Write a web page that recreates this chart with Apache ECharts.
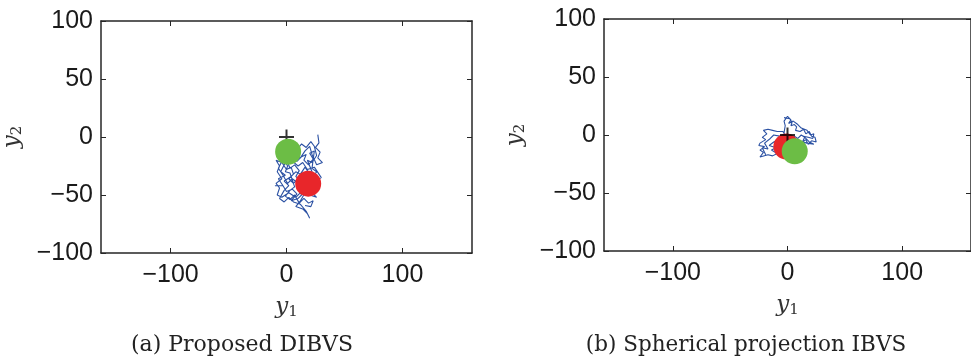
<!DOCTYPE html>
<html>
<head>
<meta charset="utf-8">
<script src="https://cdn.jsdelivr.net/npm/echarts@6/dist/echarts.min.js"></script>
<style>
  html, body { margin: 0; padding: 0; background: #fff; }
  #chart { width: 971px; height: 362px; }
</style>
</head>
<body>
<div id="chart"></div>
<script>
// Axis ranges and tick labels (image-plane coordinates, pixels)
const xRange = [-160, 160];
const yRange = [-100, 100];
const xTicks = [-100, 0, 100];
const yTicks = [-100, -50, 0, 50, 100];

// (a) Proposed DIBVS: feature-point trajectory in the image plane
const trajA = [
  [27, 2], [28, -5], [25, -9], [29, -13], [27, -18], [31, -22], [26, -24], [22, -15],
  [20, -8], [16, -12], [12, -18], [8, -16], [4, -20], [10, -25], [14, -22], [18, -28],
  [24, -26], [28, -32], [30, -35], [25, -38], [28, -44], [22, -48], [26, -52], [20, -50],
  [14, -46], [8, -52], [2, -48], [-4, -52], [-8, -50], [-6, -44], [-9, -40], [-4, -36],
  [-8, -30], [-6, -25], [-9, -20], [-4, -22], [0, -28], [4, -26], [6, -32], [2, -36],
  [6, -40], [10, -36], [14, -40], [10, -44], [16, -48], [12, -55], [8, -60], [14, -62],
  [18, -66], [20, -70], [17, -64], [12, -58], [6, -56], [2, -52], [-2, -56], [-6, -53],
  [-2, -46], [2, -42], [-2, -38], [4, -34], [8, -30], [12, -32], [16, -26], [20, -32],
  [16, -36], [20, -40], [24, -36], [22, -30], [18, -20], [22, -22], [26, -16], [24, -8],
  [21, -4], [17, -9], [13, -6], [9, -11], [5, -9], [7, -14], [3, -16], [-2, -24],
  [-5, -30], [-1, -33], [-7, -36], [-3, -42], [-10, -42], [-3, -42], [0, -47], [5, -45],
  [9, -49], [4, -55], [10, -53], [13, -50], [11, -46], [15, -43], [12, -38], [8, -34],
  [11, -29], [7, -24], [3, -27], [1, -22], [5, -18], [9, -21], [13, -17], [17, -15],
  [15, -20], [19, -24], [23, -19], [20, -14], [24, -12], [22, -27], [26, -30], [23, -34],
  [27, -40], [24, -45], [19, -44], [17, -38], [13, -34], [9, -39], [5, -36], [1, -40],
  [-3, -33], [-7, -27], [-3, -19], [1, -25], [-1, -30], [3, -31], [7, -43], [3, -46],
  [-1, -51], [3, -54], [7, -50], [11, -57], [15, -53], [19, -57], [23, -55], [21, -60],
  [16, -59]
];
const startA = [[18.7, -40.2]];
const goalA = [[1.4, -12.7]];
const refA = [[0, 0]];

// (b) Spherical projection IBVS: feature-point trajectory in the image plane
const trajB = [
  [-3, 15], [2, 14], [4, 11], [3, 8], [6, 9], [8, 7], [7, 4], [11, 3], [14, 5],
  [16, 1], [19, 3], [21, -1], [24, -2], [25, -6], [21, -5], [18, -8], [16, -4],
  [13, -6], [15, -2], [12, 0], [9, -3], [6, -1], [3, -4], [-1, -2], [-4, 3],
  [-9, 3], [-13, 4], [-17, 5], [-21, 4], [-18, 1], [-22, -2], [-19, -4], [-24, -7],
  [-25, -9], [-20, -10], [-24, -13], [-21, -15], [-24, -19], [-17, -17], [-13, -18],
  [-9, -16], [-14, -13], [-10, -11], [-16, -9], [-12, -6], [-8, -4], [-5, -7],
  [-2, -5], [-3, 2], [-2, 8], [-3, 12], [0, 16], [3, 13], [1, 10], [5, 12], [9, 9],
  [12, 6], [17, 4], [20, 0], [23, 1], [22, -3], [18, -2], [14, -1], [19, -6], [23, -8],
  [17, -7], [-7, -1], [-12, 0], [-15, -3], [-20, -7], [-17, -12], [-22, -11], [-19, -17]
];
const startB = [[-1, -10]];
const goalB = [[6.3, -14]];
const refB = [[0, 0]];

const AXIS = '#262626';
const TRAJ = '#2b51a3';
const RED = '#e8262a';
const GREEN = '#6cbd45';
const PLUS = 'path://M5,0L5,10M0,5L10,5';
const TICK_FONT = '"Liberation Sans", Arial, Helvetica, sans-serif';

const minus = v => String(v).replace('-', '\u2212');

const nameRich = {
  v: { fontFamily: 'DejaVu Serif', fontStyle: 'italic', fontSize: 23, color: '#333' },
  s: { fontFamily: 'DejaVu Serif', fontSize: 15, color: '#333', padding: [10, 0, 0, 0] }
};

function xAxes(gridIndex) {
  const base = {
    type: 'value', gridIndex, min: xRange[0], max: xRange[1],
    splitLine: { show: false },
    axisLine: { show: true, onZero: false, lineStyle: { color: AXIS, width: 1.5 } },
    axisTick: { show: true, inside: true, length: 5, customValues: xTicks, lineStyle: { color: AXIS, width: 1 } }
  };
  return [
    Object.assign({}, base, {
      position: 'bottom',
      axisLabel: { customValues: xTicks, formatter: minus, color: '#1a1a1a', fontFamily: TICK_FONT, fontSize: 25, margin: 10 },
      name: '{v|y}{s|1}', nameLocation: 'middle', nameGap: 42,
      nameTextStyle: { rich: nameRich }
    }),
    Object.assign({}, base, { position: 'top', axisLabel: { show: false } })
  ];
}

function yAxes(gridIndex) {
  const base = {
    type: 'value', gridIndex, min: yRange[0], max: yRange[1], interval: 50,
    splitLine: { show: false },
    axisLine: { show: true, onZero: false, lineStyle: { color: AXIS, width: 1.5 } },
    axisTick: { show: true, inside: true, length: 5, lineStyle: { color: AXIS, width: 1 } }
  };
  return [
    Object.assign({}, base, {
      position: 'left',
      axisLabel: { formatter: minus, color: '#1a1a1a', fontFamily: TICK_FONT, fontSize: 25, margin: 8 },
      name: '{v|y}{s|2}', nameLocation: 'middle', nameGap: 76, nameRotate: 90,
      nameTextStyle: { rich: nameRich }
    }),
    Object.assign({}, base, { position: 'right', axisLabel: { show: false } })
  ];
}

function panelSeries(xi, yi, traj, start, goal, ref) {
  return [
    { type: 'line', xAxisIndex: xi, yAxisIndex: yi, data: traj, showSymbol: false, smooth: false,
      lineStyle: { color: TRAJ, width: 1.1 }, z: 2 },
    { type: 'scatter', xAxisIndex: xi, yAxisIndex: yi, data: start, symbol: 'circle', symbolSize: 26,
      itemStyle: { color: RED, opacity: 1 }, z: 3 },
    { type: 'scatter', xAxisIndex: xi, yAxisIndex: yi, data: ref, symbol: PLUS, symbolSize: 15,
      itemStyle: { color: 'none', borderColor: '#000', borderWidth: 2 }, z: 4 },
    { type: 'scatter', xAxisIndex: xi, yAxisIndex: yi, data: goal, symbol: 'circle', symbolSize: 26,
      itemStyle: { color: GREEN, opacity: 1 }, z: 5 }
  ];
}

const chart = echarts.init(document.getElementById('chart'), null, { renderer: 'canvas' });
chart.setOption({
  animation: false,
  backgroundColor: '#fff',
  grid: [
    { left: 100, top: 21, width: 372, height: 232 },
    { left: 604, top: 19, width: 372, height: 232 }
  ],
  xAxis: xAxes(0).concat(xAxes(1)),
  yAxis: yAxes(0).concat(yAxes(1)),
  series: panelSeries(0, 0, trajA, startA, goalA, refA)
    .concat(panelSeries(2, 2, trajB, startB, goalB, refB)),
  graphic: [
    { type: 'text', x: 242, y: 345, style: { text: '(a) Proposed DIBVS', font: '22px "DejaVu Serif"', fill: '#222', align: 'center', verticalAlign: 'middle' } },
    { type: 'text', x: 746, y: 345, style: { text: '(b) Spherical projection IBVS', font: '21.5px "DejaVu Serif"', fill: '#222', align: 'center', verticalAlign: 'middle' } }
  ]
});
</script>
</body>
</html>
